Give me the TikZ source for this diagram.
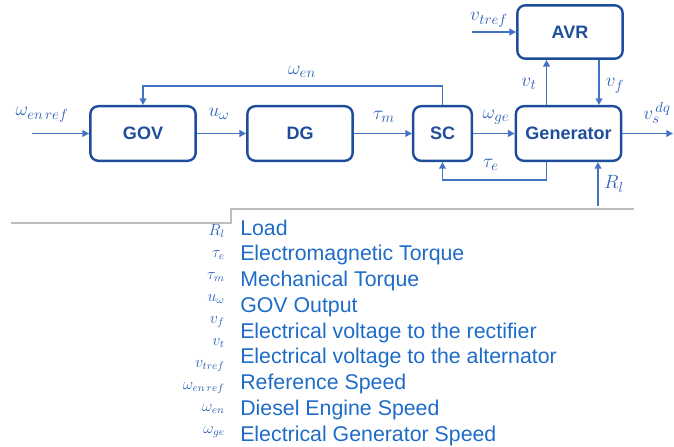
\documentclass[tikz,border=0pt]{standalone}
\usepackage{fontspec}
\setsansfont{Liberation Sans}
\usepackage{tikz}
\usetikzlibrary{arrows.meta, positioning, calc}

\definecolor{boxblue}{RGB}{30,78,155}
\definecolor{sigblue}{RGB}{68,114,196}
\definecolor{lblblue}{RGB}{47,100,185}
\definecolor{txtblue}{RGB}{30,108,200}
\definecolor{rulegray}{RGB}{190,190,190}

\begin{document}
\begin{tikzpicture}[
  x=0.75pt, y=-0.75pt,
  bloc/.style={draw=boxblue, line width=1.8pt, rounded corners=6pt, minimum height=41pt, align=center,
    text=boxblue, font=\sffamily\bfseries\fontsize{13.5}{16}\selectfont},
  fleche/.style={-{Triangle[length=5pt, width=5pt]}, draw=sigblue, line width=1.4pt},
  lbl/.style={text=lblblue, font=\fontsize{15}{18}\selectfont, inner sep=0pt},
  sym/.style={text=lblblue, font=\fontsize{12}{14}\selectfont, anchor=base east, inner sep=0pt},
  desc/.style={text=txtblue, font=\sffamily\fontsize{16}{19}\selectfont, anchor=base west, inner sep=0pt}
]
  \useasboundingbox (0,0) rectangle (674,446);

  % blocks
  \node[bloc, minimum width=79pt] (gov) at (143,133.5) {GOV};
  \node[bloc, minimum width=79pt] (dg) at (300,133.5) {DG};
  \node[bloc, minimum width=44pt] (sc) at (442.5,133.5) {SC};
  \node[bloc, minimum width=79pt] (gen) at (568.5,133.5) {Generator};
  \node[bloc, minimum width=79pt, minimum height=40pt] (avr) at (570,32) {AVR};

  % free ends
  \coordinate (wref) at (32,133.5);
  \coordinate (vout) at (673,133.5);
  \coordinate (vtref) at (472,32);
  \coordinate (rl) at (598,206);

  % main chain
  \draw[fleche] (wref) -- (gov);
  \draw[fleche] (gov) -- (dg);
  \draw[fleche] (dg) -- (sc);
  \draw[fleche] (sc) -- (gen);
  \draw[fleche] (gen) -- (vout);

  % feedbacks
  \draw[fleche] (sc.north) -- ++(0,-19) -| (gov.north);
  \draw[fleche] ($(gen.south)+(-22,0)$) -- ++(0,18) -| (sc.south);
  \draw[fleche] ($(gen.north)+(-22,0)$) coordinate (vt) -- (vt |- avr.south);
  \draw[fleche] ($(avr.south)+(29,0)$) coordinate (vf) -- (vf |- gen.north);
  \draw[fleche] (vtref) -- (avr);
  \draw[fleche] (rl) -- (rl |- gen.south);

  % signal labels
  \node[lbl] (l-wref) at (42,115) {$\omega_{en\,ref}$};
  \node[lbl] (l-uw) at (219,114) {$u_\omega$};
  \node[lbl] (l-wen) at (302,72) {$\omega_{en}$};
  \node[lbl] (l-tm) at (384,117) {$\tau_m$};
  \node[lbl] (l-wge) at (496,117) {$\omega_{ge}$};
  \node[lbl] (l-te) at (491,165) {$\tau_e$};
  \node[lbl] (l-vt) at (529,84) {$v_t$};
  \node[lbl] (l-vf) at (615,86) {$v_f$};
  \node[lbl] (l-vtref) at (489,20) {$v_{tref}$};
  \node[lbl] (l-vs) at (657,113) {$v_s^{\,dq}$};
  \node[lbl] (l-rl) at (614,184) {$R_l$};

  % separator
  \draw[rulegray, line width=0.8pt] (11,223) -- (231,223) -- (231,209) -- (634,209);

  % legend
  \foreach \s [count=\i from 0] in {R_l, \tau_e, \tau_m, u_\omega, v_f, v_t, v_{tref},
      \omega_{en\,ref}, \omega_{en}, \omega_{ge}} {
    \node[sym] (sym\i) at (225,{235+22*\i}) {$\s$};
  }
  \foreach \d [count=\i from 0] in {
      Load,
      Electromagnetic Torque,
      Mechanical Torque,
      GOV Output,
      Electrical voltage to the rectifier,
      Electrical voltage to the alternator,
      Reference Speed,
      Diesel Engine Speed,
      Electrical Generator Speed} {
    \node[desc] (desc\i) at (240,{235+25.75*\i}) {\d};
  }
\end{tikzpicture}
\end{document}
